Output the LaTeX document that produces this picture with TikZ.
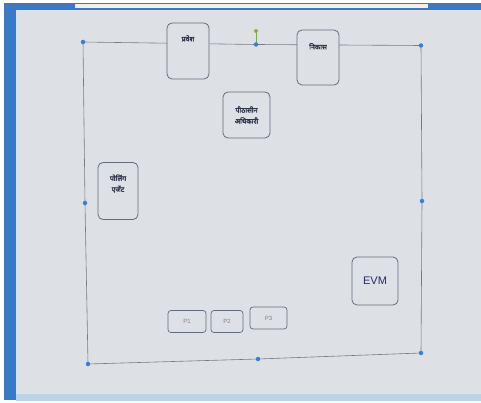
\documentclass[tikz,border=0pt]{standalone}
\usepackage{fontspec}
\newfontfamily\deva[Script=Devanagari,FakeBold=2]{Noto Sans}
\setmainfont{Liberation Sans}
\definecolor{bg}{HTML}{DDE1E6}
\definecolor{boxline}{HTML}{626C7C}
\definecolor{frameline}{HTML}{747C88}
\definecolor{handle}{HTML}{3A80D2}
\definecolor{rot}{HTML}{7DB83A}
\definecolor{winblue}{HTML}{3A78C8}
\definecolor{txt}{HTML}{2E3348}
\definecolor{band}{HTML}{B8D4E6}
\tikzset{
  shapebox/.style={draw=boxline, line width=0.8pt, rounded corners=5pt, fill=bg, inner sep=0pt},
  smallbox/.style={draw=boxline, line width=0.7pt, rounded corners=3pt, fill=bg, inner sep=0pt},
  lbl/.style={font=\deva\fontsize{7}{8}\selectfont, text=txt, align=center},
  plbl/.style={font=\fontsize{6}{7}\selectfont, text=gray},
  dot/.style={circle, fill=handle, inner sep=0pt, minimum size=4.5pt},
  frame/.style={draw=frameline, line width=0.6pt}
}
\begin{document}
\begin{tikzpicture}[x=1pt,y=-1pt]
\useasboundingbox (0,0) rectangle (481,403);
% screen background
\fill[white] (0,0) rectangle (481,403);
\fill[bg] (16,10) rectangle (481,396);
\fill[winblue] (4,3) rectangle (16,400);
\fill[winblue] (4,3) rectangle (481,10);
\fill[gray!12] (75,4) rectangle (428,8.5);
\fill[band] (16,394) rectangle (481,401);
% frame handles
\coordinate (tl) at (83,42);
\coordinate (tm) at (256,44.5);
\coordinate (tr) at (421,45.5);
\coordinate (ml) at (85,203);
\coordinate (mr) at (422,201);
\coordinate (bl) at (88,364);
\coordinate (bm) at (258,359);
\coordinate (br) at (421,353);
\coordinate (rt) at (256,31);
\draw[frame] (tl) -- (tm) -- (tr) -- (mr) -- (br) -- (bm) -- (bl) -- (ml) -- cycle;
\draw[draw=rot!70!gray, line width=0.6pt] (rt) -- (tm);
% boxes
\node[shapebox, minimum width=42pt, minimum height=56pt] (pravesh) at (188,51) {};
\node[lbl, anchor=north] at ([yshift=-9pt]pravesh.north) {प्रवेश};
\node[shapebox, minimum width=42pt, minimum height=55pt] (nikas) at (318,57.5) {};
\node[lbl, anchor=north] at ([yshift=-10pt]nikas.north) {निकास};
\node[shapebox, minimum width=47pt, minimum height=46pt, label={[lbl]center:पीठासीन\\[3pt]अधिकारी}] (pitha) at (246.5,115) {};
\node[shapebox, minimum width=40pt, minimum height=57pt] (agent) at (118,191) {};
\node[lbl, anchor=north] at ([yshift=-9pt]agent.north) {पोलिंग\\[3pt]एजेंट};
\node[smallbox, minimum width=38pt, minimum height=22pt] (p1) at (187,321.5) {};
\node[plbl] at (p1) {P1};
\node[smallbox, minimum width=32pt, minimum height=22pt] (p2) at (227,321.5) {};
\node[plbl] at (p2) {P2};
\node[smallbox, minimum width=37pt, minimum height=22pt] (p3) at (268.5,318) {};
\node[plbl] at (p3) {P3};
\node[shapebox, minimum width=46pt, minimum height=48pt] (evm) at (375,281) {};
\node[font=\fontsize{11}{13}\selectfont, text=txt!80!blue] at (evm) {EVM};
% handles
\foreach \p in {tl,tm,tr,ml,mr,bl,bm,br} \node[dot] at (\p) {};
\node[circle, fill=rot, inner sep=0pt, minimum size=4pt] at (rt) {};
\end{tikzpicture}
\end{document}
